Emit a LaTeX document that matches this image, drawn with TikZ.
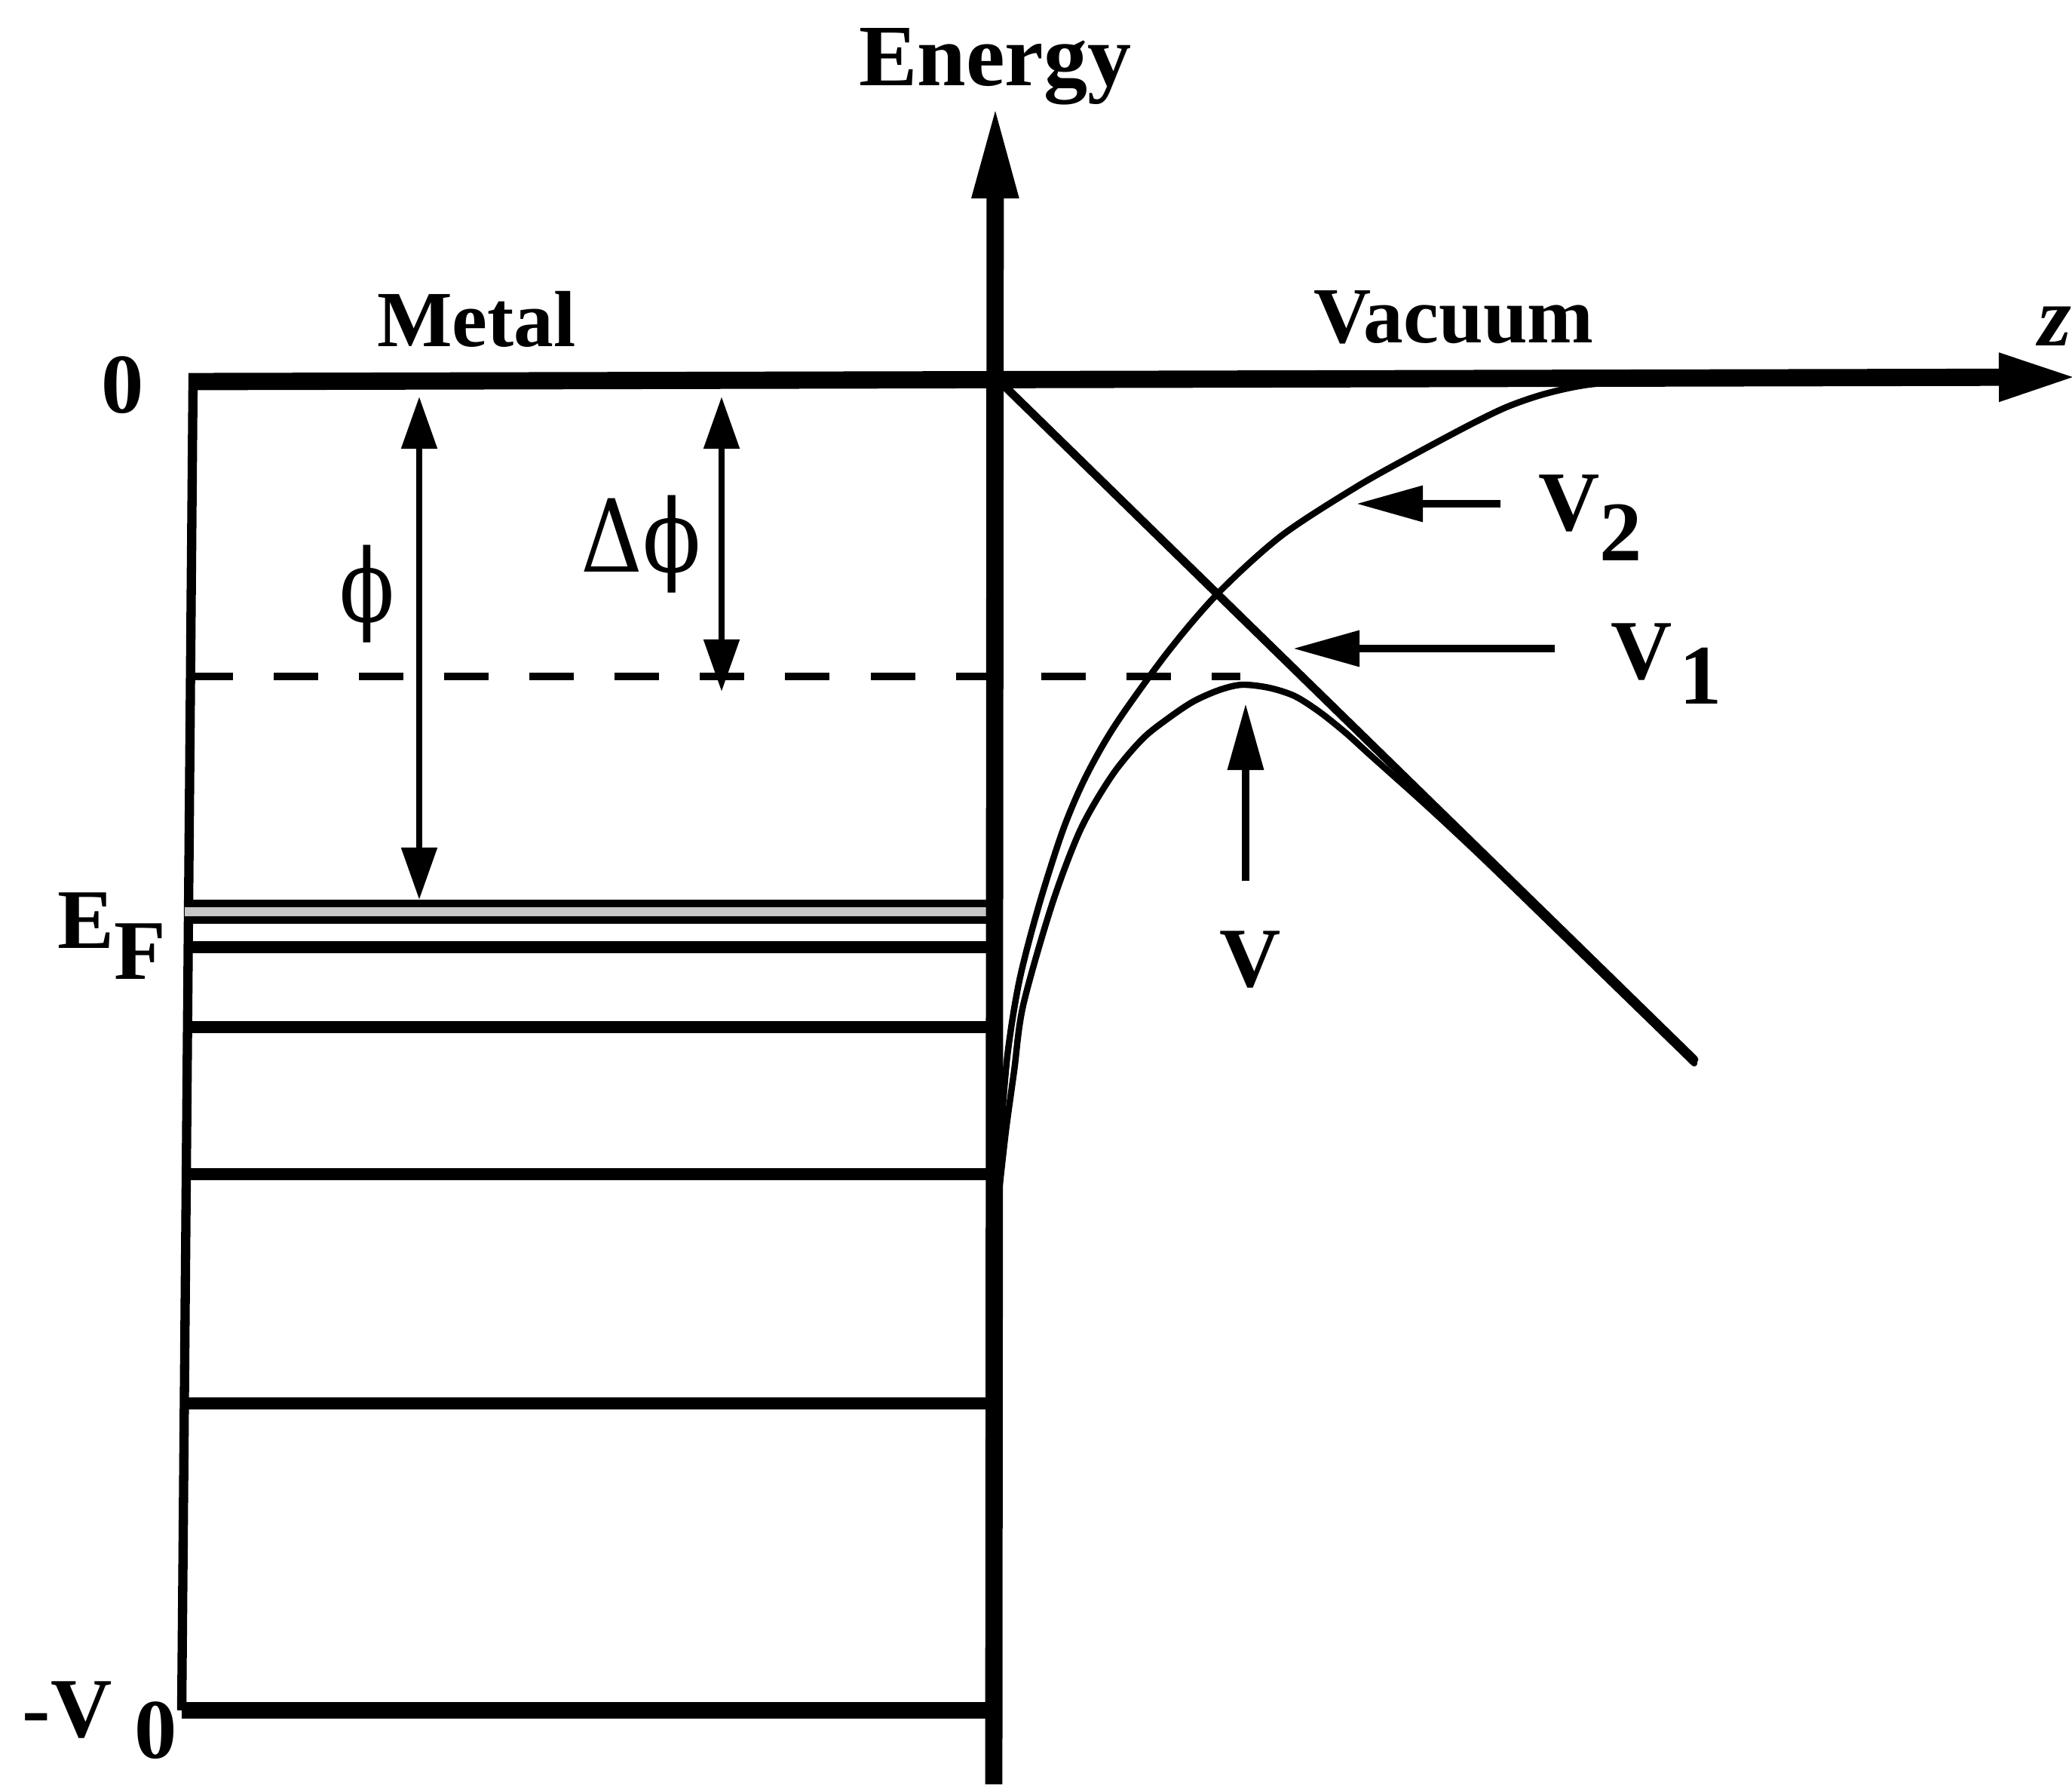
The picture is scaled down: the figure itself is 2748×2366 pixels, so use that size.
\documentclass[tikz,border=0pt]{standalone}
\usepackage{fontspec}
\setmainfont{Liberation Serif}
\newfontfamily\grk{DejaVu Serif}
\usetikzlibrary{arrows.meta}
\begin{document}
\begin{tikzpicture}[x=0.01cm,y=-0.01cm,
  lbl/.style={font=\fontsize{32}{38}\selectfont\bfseries, inner sep=0pt, outer sep=0pt},
  ttl/.style={font=\fontsize{30}{36}\selectfont\bfseries, inner sep=0pt, outer sep=0pt},
  grklbl/.style={font=\fontsize{38}{44}\selectfont\grk, inner sep=0pt, outer sep=0pt},
  axisline/.style={line width=6.5pt},
  levelline/.style={line width=4.5pt},
  edgeline/.style={line width=3.5pt},
  dimarrow/.style={line width=2.4pt, {Triangle[length=0.69cm,width=0.46cm]}-{Triangle[length=0.69cm,width=0.46cm]}},
  ptarrow/.style={line width=2.8pt, -{Triangle[length=0.88cm,width=0.46cm]}},
  potcurve/.style={line width=2.4pt, line join=round, line cap=round},
  dashline/.style={line width=2.8pt, dash pattern=on 0.59cm off 0.54cm},
]
\useasboundingbox (0,0) rectangle (2748,2366);

% metal box
\draw[edgeline] (256,506) -- (241,2268);
\draw[line width=6.5pt] (241,2268) -- (1318,2268);
\draw[line width=2.9pt, double=gray!45, double distance=0.12cm] (245,1209) -- (1314,1209);
\draw[levelline] (245,1256) -- (1314,1256);
\draw[levelline] (245,1362) -- (1314,1362);
\draw[levelline] (245,1557) -- (1314,1557);
\draw[levelline] (245,1861) -- (1314,1861);

% dashed level
\draw[dashline] (250,897) -- (1645,897);

% axes
\draw[axisline, -{Triangle[length=1.25cm,width=0.56cm]}] (1318,2366) -- (1320,138);
\draw[axisline, -{Triangle[length=1.05cm,width=0.58cm]}] (250,506) -- (2756,500);

% potentials
\draw[line width=3.1pt, line cap=round] (1325,505) -- (2247,1405);
\draw[potcurve] plot[smooth, tension=0.5] coordinates {(2200,502) (2107,510) (2050,522) (2000,539) (1950,563) (1875,603) (1800,645) (1700,710) (1617,785) (1550,863) (1480,960) (1440,1030) (1410,1100) (1378,1200) (1352,1300) (1336,1400) (1326,1520)};
\draw[potcurve] plot[smooth, tension=0.5] coordinates {(1325,1580) (1334,1500) (1345,1420) (1357,1333) (1395,1200) (1433,1100) (1475,1028) (1515,980) (1550,952) (1583,930) (1617,915) (1647,908) (1683,912) (1717,923) (1750,944) (1785,972) (1817,1001) (1883,1060) (1935,1108) (2000,1170) (2247,1410)};

% labels
\node[ttl, font=\fontsize{33}{38}\selectfont\bfseries, anchor=base] (energy) at (1320,113) {Energy};
\node[ttl, anchor=base] (metal) at (632,459) {Metal};
\node[ttl, anchor=base] (vacuum) at (1928,454) {Vacuum};
\node[lbl, anchor=base west] (zlab) at (2703,458) {\itshape z};
\node[lbl, anchor=base] (zero) at (163,547) {0};
\node[lbl, anchor=base west] (ef) at (76,1257) {E\raisebox{-0.41cm}{F}};
\node[lbl, anchor=base west] (v0) at (30,2303) {-V\hspace{0.3cm}\raisebox{-0.28cm}{0}};
\node[lbl, anchor=base west] (v2lab) at (2040,703) {V\raisebox{-0.4cm}{2}};
\node[lbl, anchor=base west] (v1lab) at (2136,900) {V\hspace{0.1cm}\raisebox{-0.33cm}{1}};
\node[lbl, anchor=base] (vlab) at (1658,1308) {V};
\node[grklbl] (philab) at (487,788) {\scalebox{0.8}[1]{ϕ}};
\node[grklbl, anchor=base west] (dphilab) at (770,758) {\scalebox{0.85}[1]{Δϕ}};

% dimension arrows
\coordinate (phitop) at (556,526);
\coordinate (phibot) at (556,1193);
\coordinate (dphitop) at (957,526);
\coordinate (dphibot) at (957,917);
\draw[dimarrow] (phitop) -- (phibot);
\draw[dimarrow] (dphitop) -- (dphibot);

% pointer arrows
\coordinate (v2from) at (1990,668);
\coordinate (v2to) at (1799,668);
\coordinate (v1from) at (2062,860);
\coordinate (v1to) at (1715,860);
\coordinate (vfrom) at (1652,1168);
\coordinate (vto) at (1652,933);
\draw[ptarrow] (v2from) -- (v2to);
\draw[ptarrow] (v1from) -- (v1to);
\draw[ptarrow] (vfrom) -- (vto);
\end{tikzpicture}
\end{document}
